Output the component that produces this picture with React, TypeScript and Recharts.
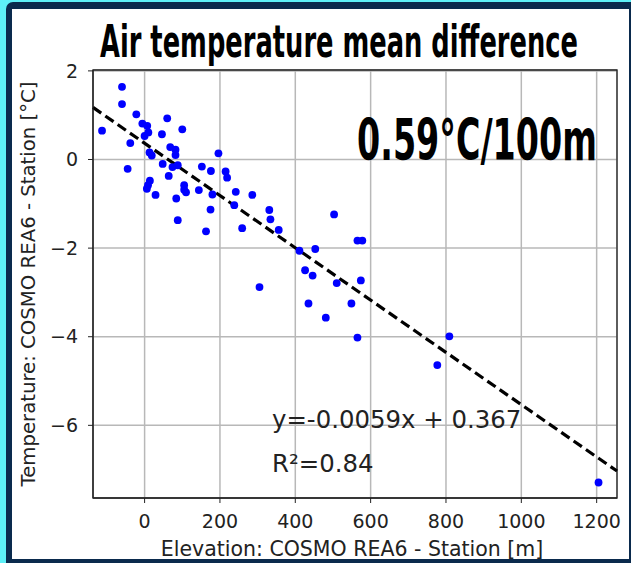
import {
  CartesianGrid,
  ReferenceArea,
  ReferenceLine,
  Scatter,
  ScatterChart,
  XAxis,
  YAxis,
} from "recharts";

// Différence d'altitude modèle - station [m]
const elevationDiff = [
  -113, -60, -60, -22, -38, -45, -6, 7, 10, 0, 46, 60, 100, 68, 82, 82, 13, 19,
  48, 74, 88, 64, 14, 9, 6, 105, 105, 110, 29, 144, 152, 196, 176, 215, 219,
  180, 242, 286, 84, 238, 175, 331, 334, 88, 259, 163, 356, 305, 503, 565, 578,
  411, 453, 426, 446, 510, 574, 435, 549, 481, 565, 809, 777, 1205,
];

// Différence de température moyenne modèle - station [°C]
const tempDiff = [
  0.65, 1.64, 1.25, 1.02, 0.37, -0.21, 0.81, 0.76, 0.61, 0.53, 0.57, 0.93, 0.68,
  0.28, 0.22, 0.1, 0.16, 0.09, -0.1, -0.17, -0.13, -0.37, -0.48, -0.58, -0.66,
  -0.58, -0.68, -0.74, -0.8, -0.69, -0.16, 0.14, -0.26, -0.27, -0.41, -0.79,
  -0.73, -0.8, -0.88, -1.03, -1.13, -1.14, -1.35, -1.37, -1.55, -1.62, -1.59,
  -2.88, -1.24, -1.83, -1.83, -2.06, -2.02, -2.5, -2.62, -2.79, -2.73, -3.25,
  -3.25, -3.57, -4.02, -3.99, -4.64, -7.29,
];

const xTicks = [0, 200, 400, 600, 800, 1000, 1200];
const yTicks = [-6, -4, -2, 0, 2];
const xDomain = [-137, 1254];
const yDomain = [-7.64, 2.02];

// régression linéaire affichée sur le graphe
const slope = -0.0059;
const intercept = 0.367;
const r2 = 0.84;

const FONT = "'DejaVu Sans', sans-serif";

const points = elevationDiff.map((x, i) => ({ x, y: tempDiff[i] }));
const fit = (x: number) => slope * x + intercept;

/** Moins typographique comme matplotlib. */
function fmtTick(v: number): string {
  return v < 0 ? `\u2212${-v}` : `${v}`;
}

function Dot(props: any) {
  const { cx, cy } = props;
  if (cx == null || cy == null) return null;
  return <circle cx={cx} cy={cy} r={3.9} fill="#0000ff" />;
}

/** Texte gras condensé (écrasé horizontalement). */
function CondensedText({
  x,
  y,
  width,
  size,
  sx,
  children,
}: {
  x: number;
  y: number;
  width: number;
  size: number;
  sx: number;
  children: string;
}) {
  return (
    <text
      x={0}
      y={0}
      transform={`translate(${x}, ${y}) scale(${sx}, 1)`}
      fontFamily={FONT}
      fontWeight="bold"
      fontSize={size}
      textLength={width / sx}
      lengthAdjust="spacingAndGlyphs"
      fill="#000"
    >
      {children}
    </text>
  );
}

export default function App() {
  return (
    <div
      style={{
        position: "absolute",
        left: 0,
        top: 0,
        width: 631,
        height: 563,
        background: "#5df0f7",
        overflow: "hidden",
      }}
    >
      {/* cadre bleu marine */}
      <div
        style={{
          position: "absolute",
          left: 6,
          top: 2,
          width: 640,
          height: 580,
          background: "#0a2a4d",
          borderRadius: 7,
        }}
      />
      <div
        style={{
          position: "absolute",
          left: 12,
          top: 9,
          width: 617,
          height: 550,
          background: "#ffffff",
        }}
      />

      <div style={{ position: "absolute", left: 0, top: 0 }}>
        <ScatterChart
          width={631}
          height={563}
          margin={{ top: 70, right: 14, bottom: 0, left: 0 }}
        >
          <CartesianGrid stroke="#b8b8b8" strokeWidth={1.5} />
          <XAxis
            type="number"
            dataKey="x"
            domain={xDomain}
            ticks={xTicks}
            allowDataOverflow
            height={65}
            tickSize={5}
            tickMargin={12}
            tickFormatter={fmtTick}
            tick={{ fill: "#222", fontSize: 19, fontFamily: FONT }}
            tickLine={{ stroke: "#222" }}
            axisLine={{ stroke: "#222" }}
            label={{
              content: ({ viewBox }: any) => (
                <text
                  x={viewBox.x + viewBox.width / 2 - 3}
                  y={viewBox.y + 58}
                  textAnchor="middle"
                  fontSize={20.5}
                  fontFamily={FONT}
                  fill="#222"
                >
                  Elevation: COSMO REA6 - Station [m]
                </text>
              ),
            }}
          />
          <YAxis
            type="number"
            dataKey="y"
            domain={yDomain}
            ticks={yTicks}
            allowDataOverflow
            width={93}
            tickSize={5}
            tickMargin={10}
            tickFormatter={fmtTick}
            tick={{ fill: "#222", fontSize: 19, fontFamily: FONT }}
            tickLine={{ stroke: "#222" }}
            axisLine={{ stroke: "#222" }}
            label={{
              content: ({ viewBox }: any) => {
                const cx = 28;
                const cy = viewBox.y + viewBox.height / 2;
                return (
                  <text
                    x={cx}
                    y={cy}
                    transform={`rotate(-90, ${cx}, ${cy})`}
                    textAnchor="middle"
                    dominantBaseline="central"
                    fontSize={19.7}
                    fontFamily={FONT}
                    fill="#222"
                  >
                    Temperature: COSMO REA6 - Station [°C]
                  </text>
                );
              },
            }}
          />
          <ReferenceArea
            x1={xDomain[0]}
            x2={xDomain[1]}
            y1={yDomain[0]}
            y2={yDomain[1]}
            fill="none"
            stroke="#222"
            strokeWidth={1.3}
          />
          <Scatter data={points} shape={<Dot />} isAnimationActive={false} />
          <ReferenceLine
            segment={[
              { x: xDomain[0], y: fit(xDomain[0]) },
              { x: xDomain[1], y: fit(xDomain[1]) },
            ]}
            stroke="#000"
            strokeWidth={3.2}
            strokeDasharray="10 5"
          />
        </ScatterChart>
      </div>

      {/* titres et annotations */}
      <svg
        width={631}
        height={563}
        style={{ position: "absolute", left: 0, top: 0, pointerEvents: "none" }}
      >
        <CondensedText x={100} y={57} width={478} size={45} sx={0.57}>
          Air temperature mean difference
        </CondensedText>
        <CondensedText x={357} y={160} width={240} size={57} sx={0.585}>
          0.59°C/100m
        </CondensedText>
        <text x={272} y={428} fontFamily={FONT} fontSize={24.4} fill="#222">
          {`y=${slope}x + ${intercept}`}
        </text>
        <text x={272} y={472} fontFamily={FONT} fontSize={24.4} fill="#222">
          {`R²=${r2}`}
        </text>
      </svg>
    </div>
  );
}
